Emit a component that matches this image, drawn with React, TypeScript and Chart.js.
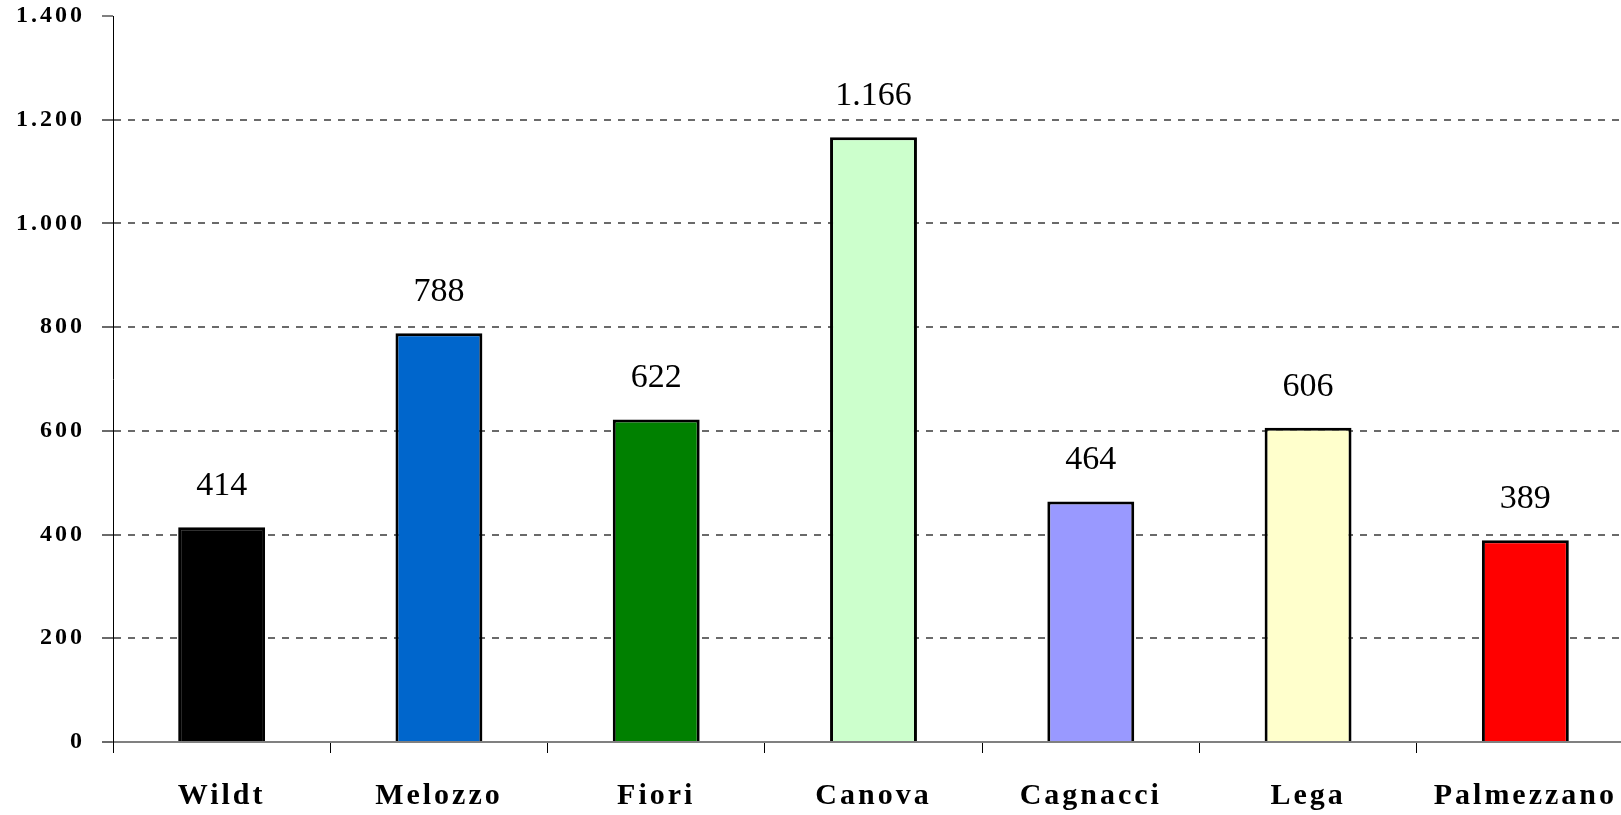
import React, { useEffect, useRef } from "react";
import { Chart, registerables } from "chart.js";

Chart.register(...registerables);

const categories = ["Wildt", "Melozzo", "Fiori", "Canova", "Cagnacci", "Lega", "Palmezzano"];
const values = [414, 788, 622, 1166, 464, 606, 389];
const barColors = ["#000000", "#0066CC", "#008000", "#CCFFCC", "#9999FF", "#FFFFCC", "#FF0000"];
const yMin = 0;
const yMax = 1400;
const yStep = 200;

const FONT = "'Liberation Serif', 'DejaVu Serif', serif";

function fmt(n: number): string {
  const s = String(Math.round(n));
  return s.replace(/\B(?=(\d{3})+(?!\d))/g, ".");
}

const spacingPlugin = {
  id: "spacing",
  beforeDraw(chart: any) {
    chart.ctx.letterSpacing = "3px";
  },
  beforeDatasetsDraw(chart: any) {
    chart.ctx.letterSpacing = "0px";
  },
};

const valueLabelPlugin = {
  id: "valueLabels",
  afterDatasetsDraw(chart: any) {
    const ctx = chart.ctx;
    const meta = chart.getDatasetMeta(0);
    ctx.save();
    ctx.letterSpacing = "0px";
    ctx.font = `34px ${FONT}`;
    ctx.fillStyle = "#000";
    ctx.textAlign = "center";
    ctx.textBaseline = "alphabetic";
    meta.data.forEach((bar: any, i: number) => {
      const v = chart.data.datasets[0].data[i];
      ctx.fillText(fmt(v), bar.x, bar.y - 32);
    });
    ctx.restore();
  },
};

export default function App() {
  const ref = useRef<HTMLCanvasElement | null>(null);

  useEffect(() => {
    if (!ref.current) return;
    const chart = new Chart(ref.current, {
      type: "bar",
      data: {
        labels: categories,
        datasets: [
          {
            data: values,
            backgroundColor: barColors,
            borderColor: "#000000",
            borderWidth: 3,
            categoryPercentage: 1,
            barPercentage: 0.4,
          },
        ],
      },
      options: {
        animation: false,
        responsive: true,
        maintainAspectRatio: false,
        layout: { padding: { top: 16, right: 6, left: 0, bottom: 0 } },
        plugins: {
          legend: { display: false },
          tooltip: { enabled: false },
          title: { display: false },
        },
        scales: {
          x: {
            offset: true,
            grid: {
              offset: true,
              drawOnChartArea: false,
              drawTicks: true,
              tickLength: 11,
              tickColor: "#000000",
              color: "#000000",
            },
            border: { display: true, color: "#808080", width: 2 },
            ticks: {
              color: "#000000",
              padding: 25,
              font: { family: FONT, size: 30, weight: "bold" },
              maxRotation: 0,
              autoSkip: false,
            },
            afterFit(scale: any) {
              scale.height = 73;
              scale.paddingLeft = 0;
              scale.paddingRight = 0;
            },
          },
          y: {
            min: yMin,
            max: yMax,
            ticks: {
              stepSize: yStep,
              color: "#000000",
              padding: 17,
              font: { family: FONT, size: 24, weight: "bold" },
              callback: (v: any) => fmt(Number(v)),
            },
            grid: {
              drawTicks: true,
              tickLength: 11,
              tickWidth: (c: any) => (c.tick && c.tick.value === yMax ? 1 : 2),
              tickColor: (c: any) => (c.tick && c.tick.value === yMax ? "#000000" : "#6a6a6a"),
              color: (c: any) => {
                const v = c.tick ? c.tick.value : null;
                if (v === yMax) return "rgba(0,0,0,0)";
                if (v === 0) return "#808080";
                return "#6a6a6a";
              },
              lineWidth: 2,
            },
            border: { display: true, color: "#000000", width: 1, dash: [7, 7] },
            afterFit(scale: any) {
              scale.width = 113;
              scale.paddingTop = 0;
              scale.paddingBottom = 0;
            },
          },
        },
      },
      plugins: [spacingPlugin, valueLabelPlugin],
    });
    return () => chart.destroy();
  }, []);

  return (
    <div
      style={{
        position: "fixed",
        left: 0,
        top: 0,
        width: 1621,
        height: 815,
        overflow: "hidden",
        background: "#ffffff",
      }}
    >
      <div style={{ position: "relative", width: 1640, height: 815 }}>
        <canvas ref={ref} />
      </div>
    </div>
  );
}
